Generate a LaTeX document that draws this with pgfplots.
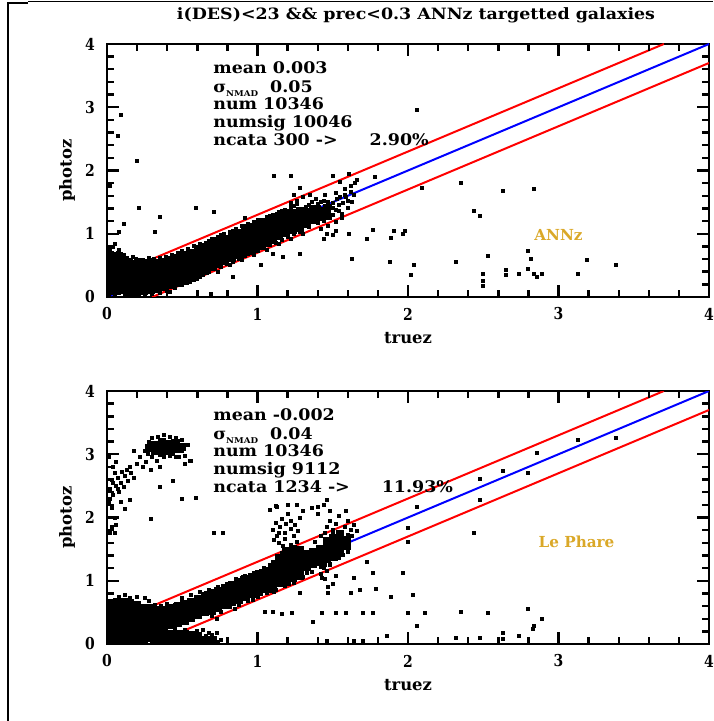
\documentclass[border=0pt]{standalone}
\usepackage{pgfplots}
\pgfplotsset{compat=1.18}
\usepackage{fontspec}
\usepackage{graphicx}
\newfontfamily\statf{DejaVu Serif Bold}[FakeStretch=1.09]
\newfontfamily\tickff{DejaVu Serif Bold}[FakeStretch=0.85]
\newfontfamily\labff{DejaVu Serif Bold}
\definecolor{annz}{RGB}{218,168,40}
\newcommand{\statfont}{\fontsize{8}{8.85}\selectfont\statf}
\newcommand{\tickf}{\fontsize{8.2}{9}\selectfont\tickff}
\newcommand{\labf}{\fontsize{8.2}{9}\selectfont\labff}
\newcommand{\sig}[1]{σ\raisebox{-2.2pt}{\fontsize{4}{4}\selectfont NMAD}\hspace{6pt}#1}
% tick marks drawn inward, one path each (major 6pt, minor 3.5pt)
\newcommand{\drawticks}{%
  \pgfplotsinvokeforeach{1,2,3}{%
    \addplot[tk] coordinates {(##1,0) (##1,0.19)};
    \addplot[tk] coordinates {(##1,4) (##1,3.81)};
    \addplot[tk] coordinates {(0,##1) (0.08,##1)};
    \addplot[tk] coordinates {(4,##1) (3.92,##1)};
  }%
  \pgfplotsinvokeforeach{0.2,0.4,0.6,0.8,1.2,1.4,1.6,1.8,2.2,2.4,2.6,2.8,3.2,3.4,3.6,3.8}{%
    \addplot[tk] coordinates {(##1,0) (##1,0.111)};
    \addplot[tk] coordinates {(##1,4) (##1,3.889)};
    \addplot[tk] coordinates {(0,##1) (0.0465,##1)};
    \addplot[tk] coordinates {(4,##1) (3.9535,##1)};
  }%
}
\pgfplotsset{
  core/.style={only marks, mark=square*, mark size=1.8pt, black, mark options={line width=0pt}},
  pts/.style={only marks, mark=square*, mark size=0.75pt, black, mark options={line width=0pt}},
  tk/.style={black, line width=1.2pt, no marks, forget plot},
  myax/.style={
  scale only axis, width=301pt, height=126.5pt, anchor=south west,
  xmin=0,xmax=4,ymin=0,ymax=4,
  xtick={0,1,2,3,4}, ytick={0,1,2,3,4},
  xticklabels={0,1,2,3,4}, yticklabels={0,1,2,3,4},
  minor x tick num=4, minor y tick num=4,
  tick align=inside,
  major tick length=6pt, minor tick length=3.5pt,
  major tick style={draw=black,line width=1.2pt},
  minor tick style={draw=black,line width=1.2pt},
  axis line style={line width=1pt},
  ticklabel style={font=\tickf},
  xticklabel style={anchor=center,yshift=-8.5pt},
  yticklabel style={anchor=center,xshift=-8.5pt},
  xlabel={truez}, ylabel={photoz},
  label style={font=\labf},
  xlabel style={at={(axis description cs:0.5,-0.162)},anchor=center},
  ylabel style={at={(axis description cs:-0.0664,0.5)},anchor=center},
}}
\begin{document}
\begin{tikzpicture}
\draw[line width=1pt] (4pt,0) -- (4pt,359.2pt);
\draw[line width=1pt] (3.5pt,359.2pt) -- (14pt,359.2pt);
\draw[line width=0.4pt] (14pt,359.6pt) -- (356.5pt,359.6pt);
\node[inner sep=0pt] at (208pt,353pt) {\resizebox{239pt}{\height}{\fontsize{7.8}{8}\selectfont\statf i(DES)<23 \&\& prec<0.3 ANNz targetted galaxies}};

% ---------------- top panel: ANNz
\begin{axis}[myax, at={(53.5pt,212pt)}]
\addplot[core] coordinates {
(0.02,0.09)(0.02,0.19)(0.02,0.29)(0.02,0.39)(0.02,0.49)(0.02,0.57)(0.02,0.65)
(0.065,0.10)(0.065,0.20)(0.065,0.30)(0.065,0.40)(0.065,0.50)(0.065,0.58)(0.065,0.64)
(0.11,0.11)(0.11,0.21)(0.11,0.31)(0.11,0.41)(0.11,0.51)(0.11,0.59)
(0.155,0.08)(0.155,0.13)(0.155,0.23)(0.155,0.33)(0.155,0.43)(0.155,0.52)
(0.20,0.08)(0.20,0.15)(0.20,0.25)(0.20,0.35)(0.20,0.45)(0.20,0.52)
(0.245,0.09)(0.245,0.17)(0.245,0.27)(0.245,0.37)(0.245,0.47)(0.245,0.53)
(0.29,0.11)(0.29,0.19)(0.29,0.29)(0.29,0.39)(0.29,0.50)(0.29,0.55)
(0.335,0.13)(0.335,0.22)(0.335,0.32)(0.335,0.42)(0.335,0.53)
(0.38,0.16)(0.38,0.25)(0.38,0.35)(0.38,0.45)(0.38,0.55)
(0.425,0.19)(0.425,0.28)(0.425,0.38)(0.425,0.48)(0.425,0.58)
(0.47,0.22)(0.47,0.31)(0.47,0.41)(0.47,0.51)(0.47,0.62)
(0.515,0.26)(0.515,0.35)(0.515,0.45)(0.515,0.55)(0.515,0.66)
(0.56,0.31)(0.56,0.40)(0.56,0.50)(0.56,0.60)(0.56,0.70)
(0.605,0.36)(0.605,0.45)(0.605,0.55)(0.605,0.65)(0.605,0.75)
(0.65,0.42)(0.65,0.50)(0.65,0.60)(0.65,0.70)(0.65,0.79)
(0.695,0.47)(0.695,0.55)(0.695,0.65)(0.695,0.75)(0.695,0.84)
(0.74,0.52)(0.74,0.60)(0.74,0.70)(0.74,0.80)(0.74,0.88)
(0.785,0.57)(0.785,0.65)(0.785,0.75)(0.785,0.85)(0.785,0.92)
(0.83,0.62)(0.83,0.70)(0.83,0.80)(0.83,0.90)(0.83,0.97)
(0.875,0.67)(0.875,0.75)(0.875,0.85)(0.875,0.95)(0.875,1.01)
(0.92,0.72)(0.92,0.79)(0.92,0.89)(0.92,0.99)(0.92,1.06)
(0.965,0.76)(0.965,0.84)(0.965,0.94)(0.965,1.04)(0.965,1.10)
(1.01,0.81)(1.01,0.89)(1.01,0.99)(1.01,1.09)(1.01,1.14)
(1.055,0.86)(1.055,0.93)(1.055,1.03)(1.055,1.13)(1.055,1.19)
(1.10,0.91)(1.10,0.98)(1.10,1.08)(1.10,1.18)(1.10,1.24)
(1.145,0.96)(1.145,1.03)(1.145,1.13)(1.145,1.23)(1.145,1.28)
(1.19,1.01)(1.19,1.08)(1.19,1.18)(1.19,1.28)(1.19,1.32)
(1.235,1.06)(1.235,1.13)(1.235,1.23)(1.235,1.33)
(1.28,1.10)(1.28,1.17)(1.28,1.27)(1.28,1.36)
(1.325,1.16)(1.325,1.25)(1.325,1.35)
(1.37,1.22)(1.37,1.30)(1.37,1.39)
(1.415,1.26)(1.415,1.36)
(1.46,1.30)(1.46,1.40)
};
\addplot[pts] coordinates {
(0.01,0.72)(0.02,0.76)(0.04,0.79)(0.03,0.70)(0.07,0.70)(0.09,0.68)(0.11,0.66)(0.13,0.62)
(0.16,0.59)(0.19,0.60)(0.21,0.59)(0.24,0.58)(0.28,0.61)(0.31,0.60)(0.35,0.62)(0.39,0.63)
(0.43,0.66)(0.47,0.69)(0.05,0.84)(0.08,0.74)(0.17,0.64)(0.01,0.02)(0.05,0.01)(0.12,0.03)
(0.35,0.07)(0.40,0.10)(0.45,0.14)(0.50,0.19)(0.55,0.24)(0.60,0.29)(0.64,0.34)(0.68,0.40)
(0.25,0.03)(0.30,0.05)(0.58,0.27)(0.62,0.31)(0.19,0.02)(0.42,0.08)
(0.50,0.72)(0.54,0.76)(0.58,0.80)(0.62,0.83)(0.66,0.86)(0.70,0.92)(0.74,0.95)(0.78,1.00)
(0.82,1.03)(0.86,1.07)(0.90,1.12)(0.94,1.15)(0.98,1.19)(1.02,1.22)(1.06,1.26)(1.10,1.30)
(1.14,1.34)(1.18,1.38)(1.22,1.43)(1.26,1.47)(0.52,0.68)(0.60,0.78)(0.68,0.89)(0.76,0.98)
(0.84,1.05)(0.92,1.13)(1.00,1.21)(1.08,1.27)(1.16,1.36)(1.24,1.44)
(0.72,0.44)(0.76,0.48)(0.80,0.52)(0.84,0.56)(0.88,0.60)(0.92,0.65)(0.96,0.69)(1.00,0.73)
(1.04,0.78)(1.08,0.82)(1.12,0.86)(1.16,0.90)(1.20,0.95)(1.24,0.99)(1.28,1.03)(0.74,0.40)
(0.82,0.50)(0.90,0.58)(0.98,0.66)(1.06,0.75)(1.14,0.83)(1.22,0.92)(1.30,1.00)
(1.32,1.42)(1.34,1.10)(1.36,1.50)(1.38,1.20)(1.40,1.17)(1.40,1.47)(1.42,1.50)(1.44,1.20)
(1.44,1.52)(1.46,1.25)(1.48,1.42)(1.48,1.25)(1.50,1.48)(1.50,1.30)(1.52,1.38)(1.52,1.18)
(1.54,1.45)(1.55,1.58)(1.56,1.32)(1.58,1.62)(1.58,1.70)(1.60,1.52)(1.60,1.40)(1.62,1.75)
(1.62,1.66)(1.64,1.62)(1.55,1.82)(1.45,1.62)(1.35,1.62)(1.30,1.58)(1.26,1.52)(1.24,1.62)
(1.22,1.48)(1.28,1.72)(1.47,1.12)(1.52,1.05)(1.50,0.98)(1.42,1.08)(1.66,1.85)(1.61,1.95)
(1.34,1.45)(1.39,1.55)(1.43,1.30)(1.57,1.48)(1.46,0.99)(1.44,0.92)(1.53,1.55)(1.56,1.25)
(1.50,1.40)(1.54,1.36)(1.47,1.50)(1.41,1.42)(1.36,1.35)(1.59,1.58)(1.63,1.50)(1.52,1.65)
(0.09,2.88)(0.07,2.54)(0.20,2.15)(0.21,1.41)(0.35,1.27)(0.59,1.41)(0.11,1.15)(0.32,1.02)
(2.06,2.95)(1.11,1.92)(1.22,1.91)(1.50,1.91)(1.65,1.80)(1.78,1.90)(0.71,1.35)(0.92,1.25)
(1.10,0.68)(1.17,0.63)(1.28,0.68)(1.02,0.50)(0.84,0.31)(0.69,0.05)(1.63,0.60)(1.61,1.00)
(1.73,0.92)(1.77,1.06)(1.88,0.55)(1.89,0.93)(1.91,1.05)(1.98,1.05)(1.97,0.99)(2.02,0.34)
(2.04,0.50)(2.09,1.73)(2.32,0.55)(2.35,1.80)(2.44,1.36)(2.48,1.28)(2.53,0.65)(2.50,0.37)
(2.50,0.26)(2.50,0.18)(2.63,1.67)(2.65,0.42)(2.65,0.34)(2.74,0.37)(2.80,0.73)(2.80,0.44)
(2.82,0.60)(2.84,0.37)(2.86,0.31)(2.89,0.37)(2.84,1.71)(3.13,0.37)(3.19,0.58)(3.38,0.50)
(0.02,1.75)(0.08,1.02)
};
\addplot[blue, line width=1pt] coordinates {(0,0) (4,4)};
\addplot[red, line width=1pt] coordinates {(0,0.3) (3.7,4)};
\addplot[red, line width=1pt] coordinates {(0.3,0) (4,3.7)};
\drawticks
\node[anchor=base west, inner sep=0pt, font=\statfont] at (axis cs:0.704,3.526) {mean 0.003};
\node[anchor=base west, inner sep=0pt, font=\statfont] at (axis cs:0.704,3.241) {\sig{0.05}};
\node[anchor=base west, inner sep=0pt, font=\statfont] at (axis cs:0.704,2.957) {num 10346};
\node[anchor=base west, inner sep=0pt, font=\statfont] at (axis cs:0.704,2.672) {numsig 10046};
\node[anchor=base west, inner sep=0pt, font=\statfont] at (axis cs:0.704,2.388) {ncata 300 ->\hspace{16pt}2.90\%};
\node[font=\fontsize{7.6}{8}\selectfont\labff, text=annz] at (axis cs:3.0,0.98) {ANNz};
\end{axis}

% ---------------- bottom panel: Le Phare
\begin{axis}[myax, at={(53.5pt,38.5pt)}]
\addplot[core] coordinates {
(0.02,0.06)(0.02,0.16)(0.02,0.26)(0.02,0.36)(0.02,0.46)(0.02,0.56)(0.02,0.64)
(0.065,0.06)(0.065,0.16)(0.065,0.26)(0.065,0.36)(0.065,0.46)(0.065,0.56)(0.065,0.66)
(0.11,0.06)(0.11,0.16)(0.11,0.26)(0.11,0.36)(0.11,0.46)(0.11,0.56)(0.11,0.66)
(0.155,0.06)(0.155,0.16)(0.155,0.26)(0.155,0.36)(0.155,0.46)(0.155,0.56)(0.155,0.64)
(0.20,0.06)(0.20,0.16)(0.20,0.26)(0.20,0.36)(0.20,0.46)(0.20,0.56)(0.20,0.62)
(0.245,0.08)(0.245,0.18)(0.245,0.28)(0.245,0.38)(0.245,0.48)(0.245,0.56)
(0.29,0.10)(0.29,0.20)(0.29,0.30)(0.29,0.40)(0.29,0.50)(0.29,0.56)
(0.335,0.06)(0.335,0.16)(0.335,0.26)(0.335,0.36)(0.335,0.46)(0.335,0.54)
(0.38,0.06)(0.38,0.16)(0.38,0.26)(0.38,0.36)(0.38,0.46)(0.38,0.54)
(0.425,0.06)(0.425,0.16)(0.425,0.30)(0.425,0.40)(0.425,0.50)(0.425,0.57)
(0.47,0.06)(0.47,0.16)(0.47,0.33)(0.47,0.43)(0.47,0.53)(0.47,0.60)
(0.515,0.06)(0.515,0.15)(0.515,0.36)(0.515,0.46)(0.515,0.56)(0.515,0.63)
(0.56,0.06)(0.56,0.14)(0.56,0.41)(0.56,0.51)(0.56,0.61)(0.56,0.67)
(0.605,0.06)(0.605,0.13)(0.605,0.46)(0.605,0.56)(0.605,0.66)(0.605,0.71)
(0.65,0.06)(0.65,0.50)(0.65,0.60)(0.65,0.70)(0.65,0.75)
(0.695,0.06)(0.695,0.53)(0.695,0.63)(0.695,0.73)(0.695,0.80)
(0.74,0.57)(0.74,0.67)(0.74,0.77)(0.74,0.84)
(0.785,0.62)(0.785,0.72)(0.785,0.82)(0.785,0.89)
(0.83,0.66)(0.83,0.76)(0.83,0.86)(0.83,0.93)
(0.875,0.70)(0.875,0.80)(0.875,0.90)(0.875,0.98)
(0.92,0.75)(0.92,0.85)(0.92,0.95)(0.92,1.02)
(0.965,0.79)(0.965,0.89)(0.965,0.99)(0.965,1.06)
(1.01,0.83)(1.01,0.93)(1.01,1.03)(1.01,1.10)
(1.055,0.87)(1.055,0.97)(1.055,1.07)(1.055,1.15)
(1.10,0.92)(1.10,1.02)(1.10,1.12)(1.10,1.22)
(1.145,0.96)(1.145,1.06)(1.145,1.16)(1.145,1.26)(1.145,1.36)
(1.19,1.00)(1.19,1.10)(1.19,1.20)(1.19,1.30)(1.19,1.40)(1.19,1.47)
(1.235,1.04)(1.235,1.14)(1.235,1.24)(1.235,1.34)(1.235,1.44)(1.235,1.50)
(1.28,1.08)(1.28,1.18)(1.28,1.28)(1.28,1.38)(1.28,1.48)
(1.325,1.22)(1.325,1.32)(1.325,1.42)
(1.37,1.26)(1.37,1.36)(1.37,1.46)
(1.415,1.30)(1.415,1.40)(1.415,1.50)
(1.46,1.34)(1.46,1.44)(1.46,1.54)(1.46,1.62)
(1.505,1.38)(1.505,1.48)(1.505,1.58)(1.505,1.68)
(1.55,1.46)(1.55,1.56)(1.55,1.66)(1.55,1.74)
(1.595,1.55)(1.595,1.64)
(0.32,3.05)(0.32,3.15)(0.365,3.02)(0.365,3.12)(0.365,3.20)(0.41,3.06)(0.41,3.16)
(0.455,3.08)(0.455,3.17)(0.50,3.12)(0.28,3.10)
};
\addplot[pts] coordinates {
(0.28,0.68)(0.32,0.62)(0.36,0.60)(0.40,0.64)(0.25,0.72)(0.20,0.74)(0.15,0.72)(0.08,0.75)
(0.12,0.78)(0.45,0.62)(0.50,0.66)(0.55,0.70)(0.60,0.74)(0.68,0.86)(0.74,0.90)(0.80,0.95)
(0.50,0.72)(0.56,0.77)(0.62,0.82)(0.86,1.02)(0.92,1.08)(0.98,1.13)(1.04,1.20)(1.10,1.30)
(1.16,1.44)(1.22,1.56)(0.66,0.80)(0.78,0.92)(0.90,1.04)(1.02,1.16)
(0.70,0.44)(0.76,0.50)(0.82,0.58)(0.88,0.62)(0.94,0.68)(1.00,0.74)(1.06,0.80)(1.12,0.86)
(1.18,0.92)(1.24,0.96)(1.30,1.06)(1.36,1.14)(1.42,1.22)(1.48,1.26)(1.54,1.36)(1.60,1.46)
(0.73,0.40)(0.85,0.55)(0.97,0.70)(1.09,0.84)(1.21,0.95)(1.33,1.12)(1.45,1.25)(1.57,1.40)
(0.72,0.10)(0.74,0.03)(0.76,0.06)(0.68,0.18)(0.30,0.02)(0.64,0.22)(0.70,0.14)(0.73,0.18)
(0.60,0.20)(0.66,0.12)(0.52,0.22)(0.45,0.24)(0.38,0.24)(0.56,0.02)(0.62,0.01)(0.70,0.01)
(1.10,1.80)(1.12,1.92)(1.13,1.70)(1.15,1.85)(1.16,1.98)(1.18,1.75)(1.19,1.90)(1.20,2.05)
(1.22,1.82)(1.22,1.95)(1.24,1.70)(1.25,1.88)(1.27,1.78)(1.28,2.00)(1.12,2.18)(1.08,2.12)
(1.20,2.20)(1.30,2.10)(1.11,1.65)(1.14,1.60)(1.17,1.55)(1.26,1.62)(1.14,1.76)(1.18,1.66)
(1.46,1.85)(1.48,1.95)(1.50,1.80)(1.52,1.90)(1.54,2.02)(1.56,1.75)(1.58,1.85)(1.60,1.95)
(1.62,1.80)(1.64,1.88)(1.48,2.10)(1.44,2.20)(1.40,2.05)(1.36,2.15)(1.52,1.68)(1.60,1.72)
(1.66,1.78)(1.42,1.70)(1.38,1.62)(1.58,1.62)(1.63,1.70)(1.50,1.74)(1.45,1.76)
(1.42,1.10)(1.44,1.20)(1.45,1.02)(1.46,1.15)(1.48,1.25)(1.50,0.95)(1.40,1.30)(1.47,0.90)
(1.52,1.08)(1.43,1.05)
(0.22,2.95)(0.25,3.05)(0.26,2.88)(0.28,3.20)(0.30,2.95)(0.30,3.25)(0.33,2.90)(0.34,3.28)
(0.38,2.95)(0.38,3.30)(0.42,2.98)(0.42,3.28)(0.46,2.95)(0.46,3.25)(0.50,3.05)(0.50,3.22)
(0.52,2.98)(0.54,3.15)(0.55,2.90)(0.20,2.85)(0.18,3.05)(0.24,2.80)(0.35,2.80)(0.29,2.75)
(0.52,2.85)(0.27,3.00)(0.44,3.00)
(0.02,2.45)(0.03,2.60)(0.04,2.35)(0.05,2.70)(0.06,2.50)(0.07,2.62)(0.08,2.40)(0.09,2.55)
(0.10,2.72)(0.11,2.48)(0.12,2.65)(0.13,2.75)(0.14,2.58)(0.15,2.80)(0.16,2.70)(0.18,2.62)
(0.01,2.25)(0.02,2.30)(0.04,2.80)(0.06,2.88)(0.03,2.15)(0.05,2.00)(0.02,1.75)(0.03,1.85)
(0.01,2.95)(0.09,2.25)(0.04,2.55)(0.07,2.45)
(0.15,2.27)(0.29,1.98)(0.35,2.49)(0.44,2.57)(0.50,2.29)(0.59,2.31)(0.71,1.75)(0.77,1.75)
(0.48,2.95)(0.56,2.90)(1.13,2.16)(1.26,2.19)(1.40,2.16)(1.46,2.27)(1.59,2.10)(2.06,2.16)
(2.00,1.83)(2.00,1.62)(2.44,1.75)(2.48,2.27)(2.48,2.61)(2.63,2.74)(2.80,2.71)(2.86,3.02)
(3.13,3.22)(3.38,3.26)(1.73,1.30)(1.77,1.12)(1.64,1.04)(1.62,0.81)(1.68,0.86)(1.79,0.87)
(1.89,0.75)(1.97,1.12)(2.03,0.78)(1.47,0.81)(1.28,0.81)(1.11,0.83)(1.22,1.33)(1.05,0.50)
(1.10,0.50)(1.16,0.47)(1.23,0.49)(1.37,0.34)(1.43,0.49)(1.52,0.49)(1.59,0.49)(1.70,0.49)
(1.77,0.49)(2.00,0.49)(2.11,0.49)(2.35,0.50)(2.53,0.49)(2.80,0.56)(2.84,0.29)(2.89,0.39)
(2.83,0.23)(2.06,0.29)(1.86,0.13)(2.32,0.10)(2.48,0.10)(2.63,0.18)(2.63,0.08)(2.74,0.13)
(1.64,0.05)(1.70,0.05)(1.46,0.05)(0.12,2.14)(0.05,1.75)(0.06,1.88)
};
\addplot[blue, line width=1pt] coordinates {(0,0) (4,4)};
\addplot[red, line width=1pt] coordinates {(0,0.3) (3.7,4)};
\addplot[red, line width=1pt] coordinates {(0.3,0) (4,3.7)};
\drawticks
\node[anchor=base west, inner sep=0pt, font=\statfont] at (axis cs:0.704,3.526) {mean -0.002};
\node[anchor=base west, inner sep=0pt, font=\statfont] at (axis cs:0.704,3.241) {\sig{0.04}};
\node[anchor=base west, inner sep=0pt, font=\statfont] at (axis cs:0.704,2.957) {num 10346};
\node[anchor=base west, inner sep=0pt, font=\statfont] at (axis cs:0.704,2.672) {numsig 9112};
\node[anchor=base west, inner sep=0pt, font=\statfont] at (axis cs:0.704,2.388) {ncata 1234 ->\hspace{16pt}11.93\%};
\node[font=\fontsize{7.6}{8}\selectfont\labff, text=annz] at (axis cs:3.12,1.62) {Le Phare};
\end{axis}
\pgfresetboundingbox
\useasboundingbox (0,0) rectangle (356.5pt,360.5pt);
\end{tikzpicture}
\end{document}
